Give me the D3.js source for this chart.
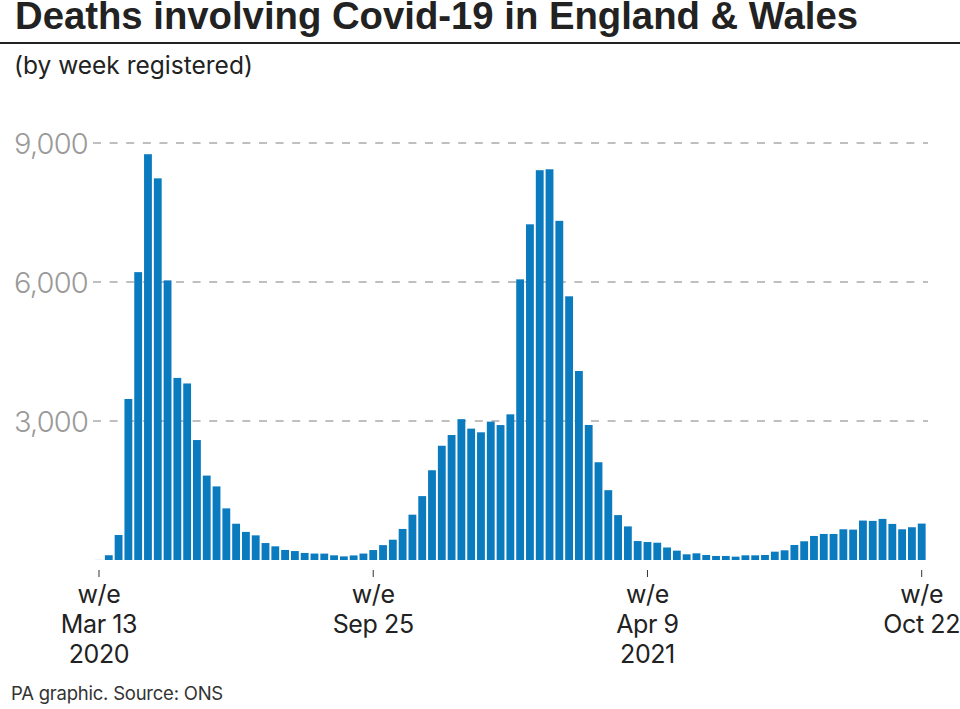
<!DOCTYPE html>
<html>
<head>
<meta charset="utf-8">
<script src="https://cdn.jsdelivr.net/npm/d3@7"></script>
<style>
  html, body { margin: 0; padding: 0; background: #ffffff; }
  svg { display: block; }
  text { font-family: Inter, "Liberation Sans", Arial, sans-serif; }
</style>
</head>
<body>
<svg id="chart" width="960" height="709"></svg>
<script>
// ---- Data (weekly deaths involving Covid-19, England & Wales, by week registered) ----
const weeks2020 = ["Mar 13","Mar 20","Mar 27","Apr 3","Apr 10","Apr 17","Apr 24","May 1","May 8","May 15","May 22","May 29","Jun 5","Jun 12","Jun 19","Jun 26","Jul 3","Jul 10","Jul 17","Jul 24","Jul 31","Aug 7","Aug 14","Aug 21","Aug 28","Sep 4","Sep 11","Sep 18","Sep 25","Oct 2","Oct 9","Oct 16","Oct 23","Oct 30","Nov 6","Nov 13","Nov 20","Nov 27","Dec 4","Dec 11","Dec 18","Dec 25"];
const deaths2020 = [5,103,539,3475,6213,8758,8237,6035,3930,3810,2589,1822,1588,1114,783,606,532,366,295,217,193,152,139,138,101,78,99,139,215,321,438,670,978,1379,1937,2466,2697,3040,2835,2756,2986,2912];
const weeks2021 = ["Jan 1","Jan 8","Jan 15","Jan 22","Jan 29","Feb 5","Feb 12","Feb 19","Feb 26","Mar 5","Mar 12","Mar 19","Mar 26","Apr 2","Apr 9","Apr 16","Apr 23","Apr 30","May 7","May 14","May 21","May 28","Jun 4","Jun 11","Jun 18","Jun 25","Jul 2","Jul 9","Jul 16","Jul 23","Jul 30","Aug 6","Aug 13","Aug 20","Aug 27","Sep 3","Sep 10","Sep 17","Sep 24","Oct 1","Oct 8","Oct 15","Oct 22"];
const deaths2021 = [3144,6057,7245,8413,8433,7320,5691,4079,2914,2110,1507,969,725,409,388,373,270,202,123,144,108,87,87,72,101,101,108,180,209,324,404,519,562,562,663,656,851,844,887,779,663,707,786];
const yTicks = [3000, 6000, 9000];
const xTickWeeks = ["2020 Mar 13", "2020 Sep 25", "2021 Apr 9", "2021 Oct 22"];
const xTickLabels = [["w/e","Mar 13","2020"], ["w/e","Sep 25"], ["w/e","Apr 9","2021"], ["w/e","Oct 22"]];
const titleText = "Deaths involving Covid-19 in England & Wales";
const subtitleText = "(by week registered)";
const sourceText = "PA graphic. Source: ONS";

// ---- Build table ----
const data = weeks2020.map((w, i) => ({ key: "2020 " + w, value: deaths2020[i] }))
  .concat(weeks2021.map((w, i) => ({ key: "2021 " + w, value: deaths2021[i] })));

const svg = d3.select("#chart");

// fit a text to a target width by adjusting letter spacing
function fitSpacing(sel, targetWidth) {
  const node = sel.node();
  const n = (sel.text() || "").length;
  let ls = 0;
  for (let k = 0; k < 4; k++) {
    const w = node.getComputedTextLength();
    if (w > 0 && n > 1) ls += (targetWidth - w) / n;
    sel.attr("letter-spacing", ls);
  }
}
// fit a text to a target width by scaling font size
function fitText(sel, targetWidth) {
  const node = sel.node();
  let fs = parseFloat(sel.attr("font-size"));
  for (let k = 0; k < 4; k++) {
    const w = node.getComputedTextLength();
    if (w > 0) fs = fs * targetWidth / w;
    sel.attr("font-size", fs);
  }
}

// ---- Header ----
const title = svg.append("text")
  .attr("x", 15).attr("y", 28.5)
  .style("font-family", "'Liberation Sans', Arial, sans-serif")
  .attr("font-size", 32.5).attr("font-weight", 700)
  .attr("fill", "#222222")
  .text(titleText);
fitText(title, 843);

svg.append("line")
  .attr("x1", 0).attr("x2", 960).attr("y1", 43).attr("y2", 43)
  .attr("stroke", "#222222").attr("stroke-width", 1.8);

const subtitle = svg.append("text")
  .attr("x", 14).attr("y", 74)
  .attr("font-size", 22).attr("font-weight", 400)
  .attr("fill", "#222222")
  .text(subtitleText);
fitText(subtitle, 239);

// ---- Scales ----
const x = d3.scaleBand()
  .domain(data.map(d => d.key))
  .range([94.1, 926.6])
  .paddingInner(0.2)
  .paddingOuter(0.1);

const y = d3.scaleLinear().domain([0, 9000]).range([560, 143]);

// ---- Gridlines ----
svg.append("g").selectAll("line")
  .data(yTicks)
  .join("line")
  .attr("x1", 93).attr("x2", 928)
  .attr("y1", d => y(d)).attr("y2", d => y(d))
  .attr("stroke", "#ababab").attr("stroke-width", 1.6)
  .attr("stroke-dasharray", "8,8.6");

const fmt = d3.format(",");
svg.append("g").selectAll("text")
  .data(yTicks)
  .join("text")
  .attr("x", 88).attr("y", d => y(d) + 10.5)
  .attr("text-anchor", "end")
  .attr("font-size", 29).attr("font-weight", 300)
  .attr("fill", "#9a9a9a")
  .text(d => fmt(d))
  .each(function() { fitSpacing(d3.select(this), 74); });

// ---- Bars ----
svg.append("g").selectAll("rect")
  .data(data)
  .join("rect")
  .attr("x", d => x(d.key))
  .attr("width", x.bandwidth())
  .attr("y", d => y(d.value))
  .attr("height", d => y(0) - y(d.value))
  .attr("fill", d => d.value < 20 ? "#9fd0ef" : "#0a7bbf");

// ---- X axis ticks and labels ----
const xg = svg.append("g");
xTickWeeks.forEach((k, i) => {
  const cx = x(k) + x.bandwidth() / 2;
  xg.append("line")
    .attr("x1", cx).attr("x2", cx).attr("y1", 570).attr("y2", 577)
    .attr("stroke", "#333333").attr("stroke-width", 1);
  xTickLabels[i].forEach((t, j) => {
    xg.append("text")
      .attr("x", cx).attr("y", 603 + j * 30)
      .attr("text-anchor", "middle")
      .attr("font-size", 25).attr("font-weight", 400)
      .attr("letter-spacing", -0.4)
      .attr("fill", "#222222")
      .text(t);
  });
});

// ---- Footer ----
const source = svg.append("text")
  .attr("x", 11).attr("y", 700)
  .attr("font-size", 18.5).attr("font-weight", 400)
  .attr("fill", "#333333")
  .text(sourceText);
fitSpacing(source, 212);
</script>
</body>
</html>
